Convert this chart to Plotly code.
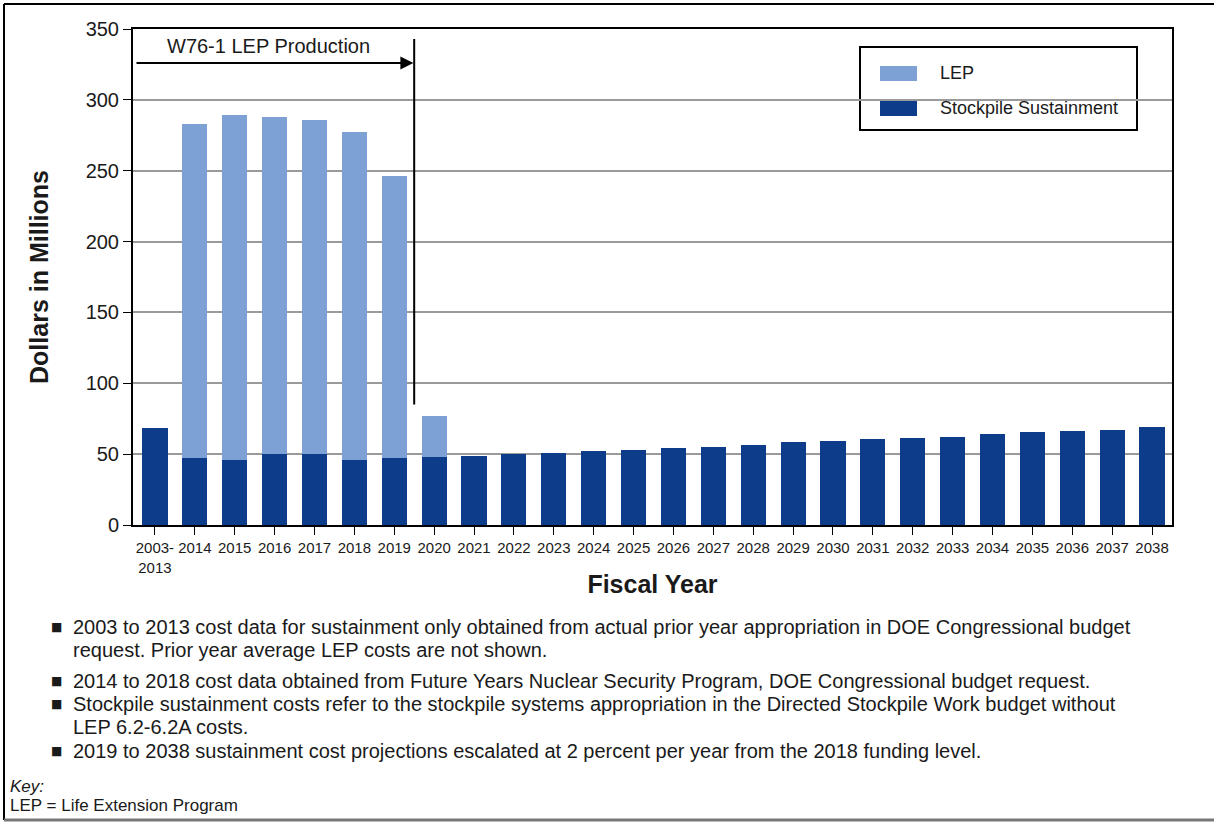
import plotly.graph_objects as go

categories = ["2003-<br>2013"] + [str(y) for y in range(2014, 2039)]
sustainment = [68.5, 47, 46, 50, 50, 46, 47, 48, 49, 50, 51, 52, 53, 54.3, 55.3, 56.5,
               58.3, 59.3, 60.5, 61.4, 62.3, 64.4, 65.4, 66.3, 67.3, 69.2]
lep = [0, 236, 243, 238, 236, 231, 199, 29] + [0] * 18
y_ticks = [0, 50, 100, 150, 200, 250, 300, 350]
legend_labels = ["LEP", "Stockpile Sustainment"]

footnotes = [
    ("2003 to 2013 cost data for sustainment only obtained from actual prior year appropriation in DOE Congressional budget", True),
    ("request. Prior year average LEP costs are not shown.", False),
    ("2014 to 2018 cost data obtained from Future Years Nuclear Security Program, DOE Congressional budget request.", True),
    ("Stockpile sustainment costs refer to the stockpile systems appropriation in the Directed Stockpile Work budget without", True),
    ("LEP 6.2-6.2A costs.", False),
    ("2019 to 2038 sustainment cost projections escalated at 2 percent per year from the 2018 funding level.", True),
]

FONT = "Liberation Sans, Arial, sans-serif"
TXT = "#1a1a1a"
DARK = "#0D3C8B"
LIGHT = "#7DA0D5"

L, R, T, B = 133, 1172, 29, 525
W, H = R - L, B - T
def px(x):
    return (x - L) / W
def py(y):
    return (B - y) / H

fig = go.Figure()
fig.add_trace(go.Bar(x=categories, y=sustainment, name="Stockpile Sustainment",
                     marker=dict(color=DARK, line=dict(width=0)), showlegend=False))
fig.add_trace(go.Bar(x=categories, y=lep, name="LEP",
                     marker=dict(color=LIGHT, line=dict(width=0)), showlegend=False))

fig.update_layout(
    width=1215, height=822,
    margin=dict(l=L, r=1215 - R, t=T, b=822 - B, autoexpand=False),
    barmode="stack", bargap=0.37,
    paper_bgcolor="white", plot_bgcolor="white",
    font=dict(family=FONT, color=TXT),
    showlegend=False,
)
fig.update_xaxes(
    type="category", showline=True, linecolor="black", linewidth=2, mirror=True,
    ticks="outside", ticklen=8, tickcolor="black", tickwidth=1,
    tickfont=dict(size=15, family=FONT, color=TXT), tickangle=0,
    title=dict(text="<b>Fiscal Year</b>", font=dict(size=25, family=FONT, color=TXT), standoff=1),
    showgrid=False,
)
fig.update_yaxes(
    range=[0, 350], tickvals=y_ticks, showline=True, linecolor="black", linewidth=2, mirror=True,
    ticks="outside", ticklen=8, tickcolor="black", tickwidth=1,
    tickfont=dict(size=20, family=FONT, color=TXT),
    showgrid=True, gridcolor="#9a9a9a", gridwidth=2,
    title=dict(text="<b>Dollars in Millions</b>", font=dict(size=25, family=FONT, color=TXT), standoff=30),
    zeroline=False,
)

shapes = []
# legend box and swatches
shapes.append(dict(type="rect", xref="paper", yref="paper", x0=px(860), x1=px(1137), y0=py(130), y1=py(47),
                   line=dict(color="black", width=2), fillcolor="white", layer="below"))
shapes.append(dict(type="rect", xref="paper", yref="paper", x0=px(880), x1=px(917), y0=py(81), y1=py(66),
                   line=dict(width=0), fillcolor=LIGHT))
shapes.append(dict(type="rect", xref="paper", yref="paper", x0=px(880), x1=px(917), y0=py(116), y1=py(101),
                   line=dict(width=0), fillcolor=DARK))
# vertical divider between 2019 and 2020
shapes.append(dict(type="line", xref="x", yref="y", x0=6.5, x1=6.5, y0=85, y1=343,
                   line=dict(color="black", width=2)))
# outer frame
shapes.append(dict(type="line", xref="paper", yref="paper", x0=px(4), x1=px(4), y0=py(820), y1=py(4),
                   line=dict(color="black", width=2)))
shapes.append(dict(type="line", xref="paper", yref="paper", x0=px(4), x1=px(1214), y0=py(4), y1=py(4),
                   line=dict(color="black", width=2)))
shapes.append(dict(type="line", xref="paper", yref="paper", x0=px(4), x1=px(1214), y0=py(820), y1=py(820),
                   line=dict(color="#777777", width=3)))
fig.update_layout(shapes=shapes)

annotations = []
annotations.append(dict(x=px(938), y=py(73), xref="paper", yref="paper", text=legend_labels[0], showarrow=False,
                        xanchor="left", yanchor="middle", font=dict(size=18, family=FONT, color=TXT)))
annotations.append(dict(x=px(938), y=py(108), xref="paper", yref="paper", text=legend_labels[1], showarrow=False,
                        xanchor="left", yanchor="middle", font=dict(size=18, family=FONT, color=TXT)))
# arrow
annotations.append(dict(x=6.48, y=326, ax=-0.5, ay=326, xref="x", yref="y", axref="x", ayref="y",
                        showarrow=True, arrowhead=2, arrowsize=1.3, arrowwidth=2, arrowcolor="black", text=""))
annotations.append(dict(x=px(268), y=py(46), xref="paper", yref="paper", text="W76-1 LEP Production",
                        showarrow=False, xanchor="center", yanchor="middle",
                        font=dict(size=20, family=FONT, color=TXT)))
ys = [627, 650, 681, 704, 727, 751]
for (txt, bullet), yy in zip(footnotes, ys):
    if bullet:
        annotations.append(dict(x=px(56), y=py(yy), xref="paper", yref="paper", text="■", showarrow=False,
                                xanchor="center", yanchor="middle", font=dict(size=12, family="DejaVu Sans", color=TXT)))
    annotations.append(dict(x=px(71), y=py(yy), xref="paper", yref="paper", text=txt, showarrow=False,
                            xanchor="left", yanchor="middle", font=dict(size=20, family=FONT, color=TXT)))
annotations.append(dict(x=px(8), y=py(786), xref="paper", yref="paper", text="<i>Key:</i>", showarrow=False,
                        xanchor="left", yanchor="middle", font=dict(size=17, family=FONT, color=TXT)))
annotations.append(dict(x=px(8), y=py(805), xref="paper", yref="paper", text="LEP = Life Extension Program",
                        showarrow=False, xanchor="left", yanchor="middle", font=dict(size=17, family=FONT, color=TXT)))
fig.update_layout(annotations=annotations)

fig.write_html("out.html", config={"displayModeBar": False},
               post_script="document.body.style.margin='0';")
